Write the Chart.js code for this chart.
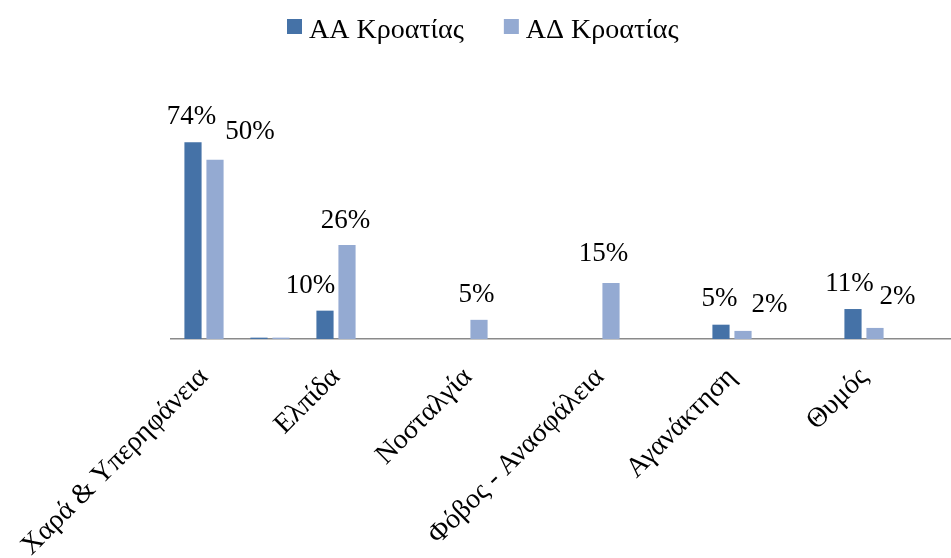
<!DOCTYPE html>
<html>
<head>
<meta charset="utf-8">
<script src="https://cdn.jsdelivr.net/npm/chart.js@4.4.0/dist/chart.umd.min.js"></script>
<style>
  html, body { margin: 0; padding: 0; background: #fff; overflow: hidden; }
  #wrap { width: 1000px; height: 558px; }
</style>
</head>
<body>
<div id="wrap"><canvas id="chart" width="1000" height="558"></canvas></div>
<script>
// categories (odd slots are empty in the original)
const categories = [
  'Χαρά & Υπερηφάνεια', '', 'Ελπίδα', '', 'Νοσταλγία', '',
  'Φόβος - Ανασφάλεια', '', 'Αγανάκτηση', '', 'Θυμός', ''
];
const seriesNames = ['ΑΑ Κροατίας', 'ΑΔ Κροατίας'];
const seriesColors = ['#4572A7', '#94AAD2'];

// bar heights
const aaValues = [72.9, 0.5, 10.5, 0, 0, 0, 0, 0, 5.3, 0, 11.1, 0];
const adValues = [66.4, 0.5, 34.8, 0, 7.1, 0, 20.7, 0, 3.0, 0, 4.1, 0];

// printed value labels
const aaLabels = ['74%', '', '10%', '', '', '', '', '', '5%', '', '11%', ''];
const adLabels = ['50%', '', '26%', '', '5%', '', '15%', '', '2%', '', '2%', ''];

// label nudges [dx, dy] in px
const aaNudge = [[-1.5, 0], null, [-14.5, 0], null, null, null, null, null, [-1.5, -1], null, [-3.5, 0], null];
const adNudge = [[35, -3], null, [-1.5, 1], null, [-2.5, 0], null, [-7.5, -4], null, [26.5, -1], null, [22.5, -6], null];

const FONT = '"Liberation Serif", "Times New Roman", serif';
const FSIZE = 27;

const valueLabels = {
  id: 'valueLabels',
  afterDatasetsDraw(chart) {
    const ctx = chart.ctx;
    const sets = [[aaLabels, aaNudge], [adLabels, adNudge]];
    ctx.save();
    ctx.font = FSIZE + 'px ' + FONT;
    ctx.fillStyle = '#000';
    ctx.textAlign = 'center';
    ctx.textBaseline = 'alphabetic';
    sets.forEach(([labels, nudge], i) => {
      const meta = chart.getDatasetMeta(i);
      labels.forEach((t, j) => {
        if (!t) return;
        const bar = meta.data[j];
        const n = nudge[j] || [0, 0];
        ctx.fillText(t, bar.x + n[0], bar.y - 18 + n[1]);
      });
    });
    ctx.restore();
  }
};

// legend drawn by hand, the built-in one can't sit where the original does
const topLegend = {
  id: 'topLegend',
  afterDraw(chart) {
    const ctx = chart.ctx;
    ctx.save();
    ctx.font = '28px ' + FONT;
    ctx.textBaseline = 'alphabetic';
    ctx.textAlign = 'left';
    let x = 287;
    seriesNames.forEach((name, i) => {
      ctx.fillStyle = seriesColors[i];
      ctx.fillRect(x, 19, 15, 15);
      ctx.fillStyle = '#000';
      ctx.fillText(name, x + 22, 38);
      x += 22 + ctx.measureText(name).width + 40;
    });
    ctx.restore();
  }
};

new Chart(document.getElementById('chart'), {
  type: 'bar',
  data: {
    labels: categories,
    datasets: seriesNames.map((name, i) => ({
      label: name,
      data: i === 0 ? aaValues : adValues,
      backgroundColor: seriesColors[i],
      categoryPercentage: 0.667,
      barPercentage: 0.78
    }))
  },
  options: {
    responsive: false,
    animation: false,
    layout: { padding: { left: 171, right: 37, top: 69, bottom: 0 } },
    plugins: {
      legend: { display: false },
      tooltip: { enabled: false }
    },
    scales: {
      x: {
        afterFit: (scale) => {
          // fixed axis band; don't let the long rotated label push the plot
          scale.height = 219;
          scale.paddingLeft = 0;
          scale.paddingRight = 0;
        },
        grid: { display: false, drawTicks: false },
        border: { display: true, color: '#8A8A8A', width: 1.5 },
        ticks: {
          autoSkip: false,
          maxRotation: 45,
          minRotation: 45,
          padding: 22,
          color: '#000',
          font: { family: FONT, size: 28 }
        }
      },
      y: {
        display: false,
        min: 0,
        max: 100
      }
    }
  },
  plugins: [valueLabels, topLegend]
});
</script>
</body>
</html>
